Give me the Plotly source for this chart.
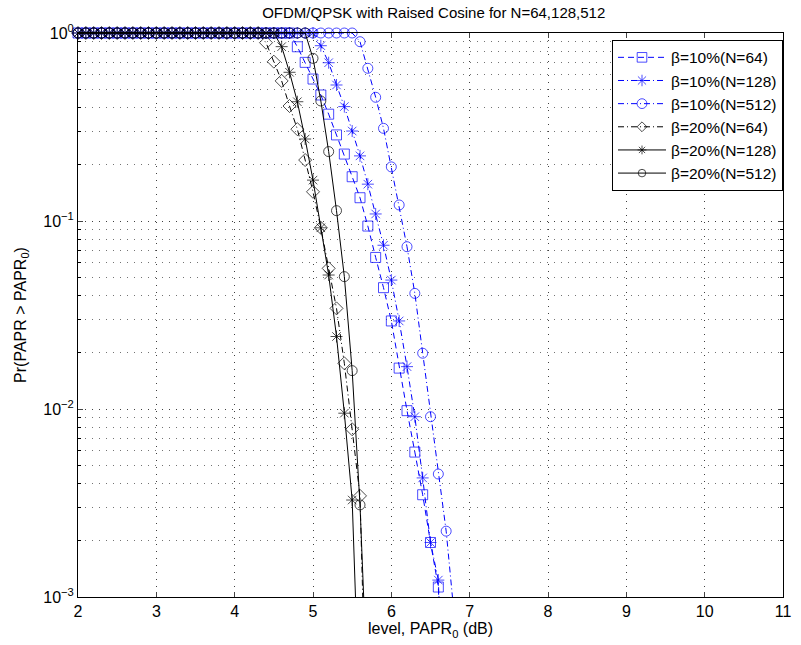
import plotly.graph_objects as go

# PAPR level grid (dB)
papr_db = [2.0, 2.1, 2.2, 2.3, 2.4, 2.5, 2.6, 2.7, 2.8, 2.9,
           3.0, 3.1, 3.2, 3.3, 3.4, 3.5, 3.6, 3.7, 3.8, 3.9,
           4.0, 4.1, 4.2, 4.3, 4.4, 4.5, 4.6, 4.7, 4.8, 4.9,
           5.0, 5.1, 5.2, 5.3, 5.4, 5.5, 5.6, 5.7, 5.8, 5.9,
           6.0, 6.1, 6.2, 6.3, 6.4, 6.5, 6.6, 6.7, 6.8]

# CCDF values (None = no data)
ccdf_b10_n64 = [1, 1, 1, 1, 1, 1, 1, 1, 1, 1,
                1, 1, 1, 1, 1, 1, 1, 1, 1, 1,
                1, 1, 1, 1, 1, 1, 1, 1, 0.845, 0.698,
                0.569, 0.468, 0.370, 0.287, 0.227, 0.172, 0.133, 0.094, 0.064, 0.0442,
                0.0294, 0.0165, 0.0098, 0.0059, 0.0035, 0.00195, 0.00113, 0.0001, None]
ccdf_b10_n128 = [1, 1, 1, 1, 1, 1, 1, 1, 1, 1,
                 1, 1, 1, 1, 1, 1, 1, 1, 1, 1,
                 1, 1, 1, 1, 1, 1, 1, 1, 1, 1,
                 1, 0.856, 0.695, 0.529, 0.406, 0.301, 0.222, 0.157, 0.109, 0.0743,
                 0.0485, 0.0294, 0.0168, 0.0091, 0.0043, 0.00195, 0.00123, 0.0001, None]
ccdf_b10_n512 = [1, 1, 1, 1, 1, 1, 1, 1, 1, 1,
                 1, 1, 1, 1, 1, 1, 1, 1, 1, 1,
                 1, 1, 1, 1, 1, 1, 1, 1, 1, 1,
                 1, 1, 1, 1, 1, 1, 0.899, 0.649, 0.455, 0.311,
                 0.194, 0.1217, 0.073, 0.0412, 0.0198, 0.0091, 0.00451, 0.00224, 0.00082]
ccdf_b20_n64 = [1, 1, 1, 1, 1, 1, 1, 1, 1, 1,
                1, 1, 1, 1, 1, 1, 1, 1, 1, 1,
                1, 1, 1, 1, 0.888, 0.704, 0.556, 0.409, 0.308, 0.211,
                0.143, 0.092, 0.056, 0.0343, 0.0175, 0.0078, 0.00345, 0.0001, None, None,
                None, None, None, None, None, None, None, None, None]
ccdf_b20_n128 = [1, 1, 1, 1, 1, 1, 1, 1, 1, 1,
                 1, 1, 1, 1, 1, 1, 1, 1, 1, 1,
                 1, 1, 1, 1, 1, 1, 0.846, 0.618, 0.431, 0.273,
                 0.165, 0.092, 0.0516, 0.0243, 0.0095, 0.00328, 0.0002, None, None, None,
                 None, None, None, None, None, None, None, None, None]
ccdf_b20_n512 = [1, 1, 1, 1, 1, 1, 1, 1, 1, 1,
                 1, 1, 1, 1, 1, 1, 1, 1, 1, 1,
                 1, 1, 1, 1, 1, 1, 1, 1, 1, 1,
                 0.733, 0.435, 0.234, 0.1135, 0.0506, 0.016, 0.00309, 0.00028, None, None,
                 None, None, None, None, None, None, None, None, None]

series_names = ["β=10%(N=64)", "β=10%(N=128)", "β=10%(N=512)",
                "β=20%(N=64)", "β=20%(N=128)", "β=20%(N=512)"]
series_values = [ccdf_b10_n64, ccdf_b10_n128, ccdf_b10_n512,
                 ccdf_b20_n64, ccdf_b20_n128, ccdf_b20_n512]

x_ticks = [2, 3, 4, 5, 6, 7, 8, 9, 10, 11]
y_tickvals = [1e-3, 1e-2, 1e-1, 1]
y_ticktext = ["10<sup>−3</sup>", "10<sup>−2</sup>", "10<sup>−1</sup>", "10<sup>0</sup>"]
y_minor_vals = [2e-3, 3e-3, 4e-3, 5e-3, 6e-3, 7e-3, 8e-3, 9e-3,
                2e-2, 3e-2, 4e-2, 5e-2, 6e-2, 7e-2, 8e-2, 9e-2,
                0.2, 0.3, 0.4, 0.5, 0.6, 0.7, 0.8, 0.9]

colors = ["#0000ff", "#0000ff", "#0000ff", "#000000", "#000000", "#000000"]
symbols = ["square-open", "asterisk-open", "circle-open",
           "diamond-open", "asterisk-open", "circle-open"]
dashes = ["6px,4px", "6px,3px,1px,3px", "6px,3px,1px,3px",
          "6px,3px,1px,3px", "solid", "solid"]

FONT = "Liberation Sans, Arial, Helvetica, sans-serif"

fig = go.Figure()
for name, ys, c, s, d in zip(series_names, series_values, colors, symbols, dashes):
    sizes = [10 if (v is not None and v >= 1e-3) else 0 for v in ys]
    fig.add_trace(go.Scatter(
        x=papr_db, y=ys, name=name, mode="lines+markers",
        line=dict(color=c, width=1, dash=d),
        marker=dict(symbol=s, size=sizes, color=c, line=dict(color=c, width=1)),
        cliponaxis=False, connectgaps=False,
    ))

grid_major = "rgba(0,0,0,0.75)"
grid_minor = "rgba(0,0,0,0.55)"

fig.update_layout(
    width=801, height=645,
    margin=dict(l=78, r=10, t=33, b=48),
    paper_bgcolor="white", plot_bgcolor="white",
    font=dict(family=FONT, size=16, color="black"),
    title=dict(text="OFDM/QPSK with Raised Cosine for N=64,128,512",
               x=0.5415, xanchor="center", y=0.981, yanchor="middle",
               font=dict(size=15, family=FONT)),
    showlegend=True,
    legend=dict(x=1.0, xanchor="right", y=0.988, yanchor="top",
                bgcolor="white", bordercolor="black", borderwidth=1,
                font=dict(size=15.5, family=FONT), tracegroupgap=0, itemwidth=48),
)

fig.update_xaxes(
    range=[2, 11], tickvals=x_ticks, ticks="inside", ticklen=5,
    showline=True, linecolor="black", linewidth=1, mirror="ticks",
    showgrid=True, gridcolor=grid_major, gridwidth=1, griddash="1px,6px",
    zeroline=False, tickfont=dict(size=16),
    title=dict(text="level, PAPR<sub>0</sub> (dB)", font=dict(size=16), standoff=2),
)
fig.update_yaxes(
    type="log", range=[-3, 0], tickvals=y_tickvals, ticktext=y_ticktext,
    ticks="inside", ticklen=5,
    showline=True, linecolor="black", linewidth=1, mirror="ticks",
    showgrid=True, gridcolor=grid_major, gridwidth=1, griddash="1px,6px",
    zeroline=False, tickfont=dict(size=16),
    minor=dict(tickmode="array", tickvals=y_minor_vals, ticks="inside", ticklen=3,
               showgrid=True, gridcolor=grid_minor, griddash="1px,6px",
               tickcolor="black"),
    title=dict(text="Pr(PAPR > PAPR<sub>0</sub>)", font=dict(size=16), standoff=12),
)

fig.write_html("out.html")
